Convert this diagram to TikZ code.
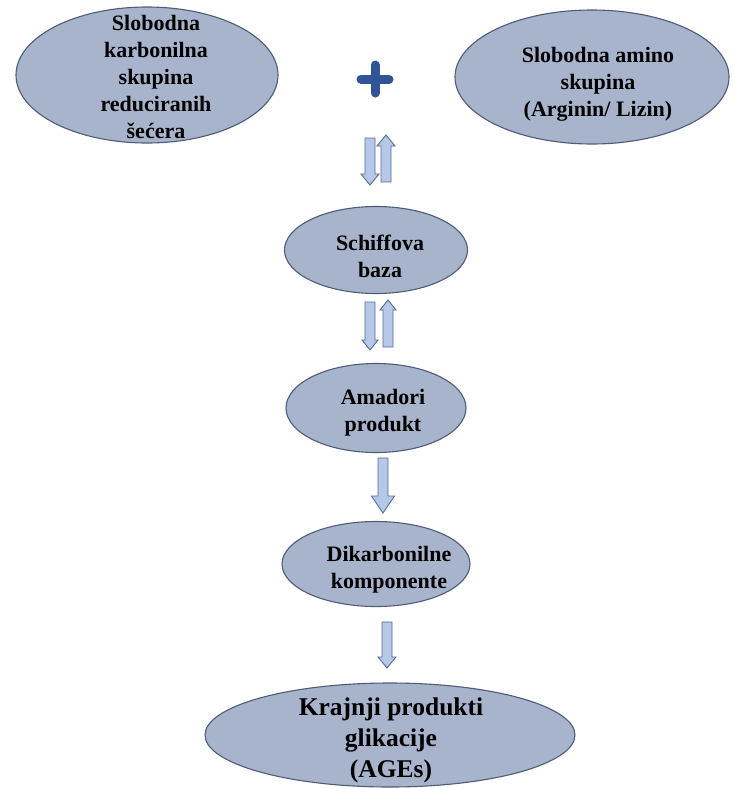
\documentclass[tikz,border=0pt]{standalone}
\usepackage{fontspec}
\setmainfont{Liberation Serif}
\usetikzlibrary{shapes.geometric}
\definecolor{ellfill}{RGB}{168,180,204}
\definecolor{elldraw}{RGB}{78,92,120}
\definecolor{arrfill}{RGB}{182,200,232}
\definecolor{arrdraw}{RGB}{84,108,148}
\definecolor{plusblue}{RGB}{47,85,151}
\tikzset{
  ellbox/.style={ellipse, fill=ellfill, draw=elldraw, line width=1.1pt, inner sep=0pt},
  lbl/.style={align=center, font=\bfseries\fontsize{22}{27}\selectfont, inner sep=0pt},
  biglbl/.style={align=center, font=\bfseries\fontsize{25.5}{31}\selectfont, inner sep=0pt},
  blockarr/.style={fill=arrfill, draw=arrdraw, line width=0.9pt, line join=miter},
}
% x, top y, length, head half width, head length
\newcommand\downarr[5]{\draw[blockarr, shift={(#1,#2)}] (-5,0) -- (5,0) -- (5,#3-#5) -- (#4,#3-#5) -- (0,#3) -- (-#4,#3-#5) -- (-5,#3-#5) -- cycle;}
\newcommand\uparr[5]{\draw[blockarr, shift={(#1,#2)}] (-5,#3) -- (5,#3) -- (5,#5) -- (#4,#5) -- (0,0) -- (-#4,#5) -- (-5,#5) -- cycle;}
\begin{document}
\begin{tikzpicture}[x=1pt,y=-1pt]
\useasboundingbox[fill=white] (0,0) rectangle (733,788);
% ellipses
\node[ellbox, minimum width=262pt, minimum height=136pt] (carb) at (147,75) {};
\node[lbl] (carbt) at (156,77) {Slobodna\\karbonilna\\skupina\\reduciranih\\šećera};
\node[ellbox, minimum width=274pt, minimum height=134pt] (amino) at (592,77) {};
\node[lbl] (aminot) at (598,84) {Slobodna amino\\skupina\\(Arginin/ Lizin)};
\node[ellbox, minimum width=183pt, minimum height=87pt] (schiff) at (376,250) {};
\node[lbl] (schifft) at (380,256) {Schiffova\\baza};
\node[ellbox, minimum width=180pt, minimum height=89pt] (amadori) at (376,408) {};
\node[lbl] (amadorit) at (383,413) {Amadori\\produkt};
\node[ellbox, minimum width=188pt, minimum height=85pt] (dikarb) at (376,564) {};
\node[lbl] (dikarbt) at (389,570) {Dikarbonilne\\komponente};
\node[ellbox, minimum width=370pt, minimum height=104pt] (ages) at (390,735) {};
\node[biglbl] (agest) at (391,740) {Krajnji produkti\\glikacije\\(AGEs)};
% plus sign
\coordinate (plusc) at (375,79);
\draw[plusblue, line width=9pt, line cap=round] ([xshift=-14pt]plusc) -- ([xshift=14pt]plusc);
\draw[plusblue, line width=9pt, line cap=round] ([yshift=14pt]plusc) -- ([yshift=-14pt]plusc);
% arrows
\downarr{370}{138}{47}{9}{11}
\uparr{386}{135}{47}{9}{11}
\downarr{370}{302}{48}{8}{10}
\uparr{388}{300}{47}{8}{10}
\downarr{383}{458}{55}{11.5}{17}
\downarr{387}{622}{46}{9}{11}
\end{tikzpicture}
\end{document}
